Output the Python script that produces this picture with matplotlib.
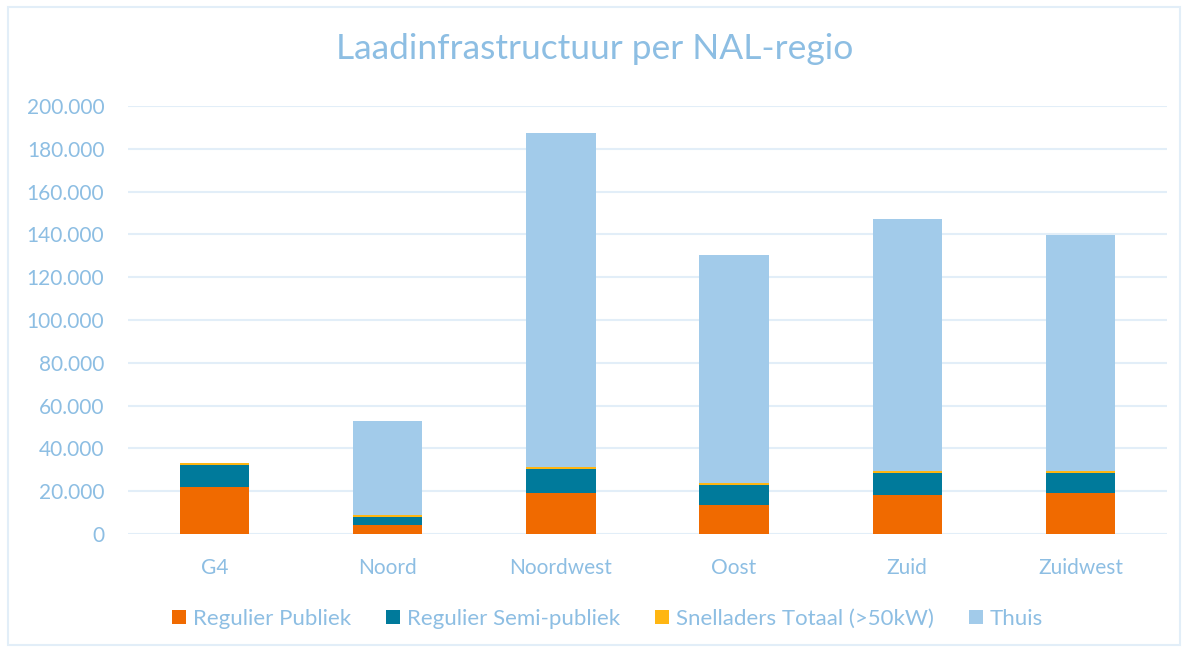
import numpy as np
import matplotlib.pyplot as plt
from matplotlib.patches import Rectangle
from matplotlib.ticker import FuncFormatter

plt.rcParams['font.family'] = ['Lato', 'DejaVu Sans']

regios = ['G4', 'Noord', 'Noordwest', 'Oost', 'Zuid', 'Zuidwest']
regulier_publiek = [21800, 4100, 19000, 13400, 18100, 19000]
regulier_semi = [10300, 3700, 11200, 9400, 10300, 9400]
snelladers = [900, 900, 900, 900, 900, 900]
thuis = [0, 44000, 156100, 106500, 117700, 110200]

series = [
    ('Regulier Publiek', regulier_publiek, '#F06A00'),
    ('Regulier Semi-publiek', regulier_semi, '#007A9B'),
    ('Snelladers Totaal (>50kW)', snelladers, '#FFB612'),
    ('Thuis', thuis, '#A2CBEA'),
]

txt = '#8DBEE3'
grid = '#E2EEF8'

fig = plt.figure(figsize=(11.89, 6.51), dpi=100)
ax = fig.add_axes([128/1189, 1-534/651, 1039/1189, 428/651])

x = np.arange(len(regios))
bottom = np.zeros(len(regios))
for naam, vals, kleur in series:
    ax.bar(x, vals, 0.4, bottom=bottom, color=kleur, label=naam, zorder=3)
    bottom += np.array(vals)

ax.set_xlim(-0.5, len(regios) - 0.5)
ax.set_ylim(0, 200000)
ax.set_yticks(np.arange(0, 200001, 20000))
ax.yaxis.set_major_formatter(FuncFormatter(lambda v, p: f'{int(v):,}'.replace(',', '.')))
ax.set_xticks(x)
ax.set_xticklabels(regios)
ax.grid(axis='y', color=grid, linewidth=1.5, zorder=0)
for s in ax.spines.values():
    s.set_visible(False)
ax.tick_params(axis='both', length=0, colors=txt, labelsize=15)
ax.tick_params(axis='y', pad=17)
ax.tick_params(axis='x', pad=17)

fig.text(0.5, 1-49/651, 'Laadinfrastructuur per NAL-regio', ha='center', va='center',
         color=txt, fontsize=25.5)

ax.legend(loc='center', bbox_to_anchor=((607.5-128)/1039, (534-619)/428), ncol=4, frameon=False,
          fontsize=16, labelcolor=txt, handlelength=0.63, handleheight=0.63,
          columnspacing=1.58, handletextpad=0.3)

fig.patches.append(Rectangle((8/1189, 1-645/651), 1172/1189, 638/651, transform=fig.transFigure,
                             fill=False, edgecolor=grid, linewidth=1.5))

fig.savefig('out.png', dpi=100)
